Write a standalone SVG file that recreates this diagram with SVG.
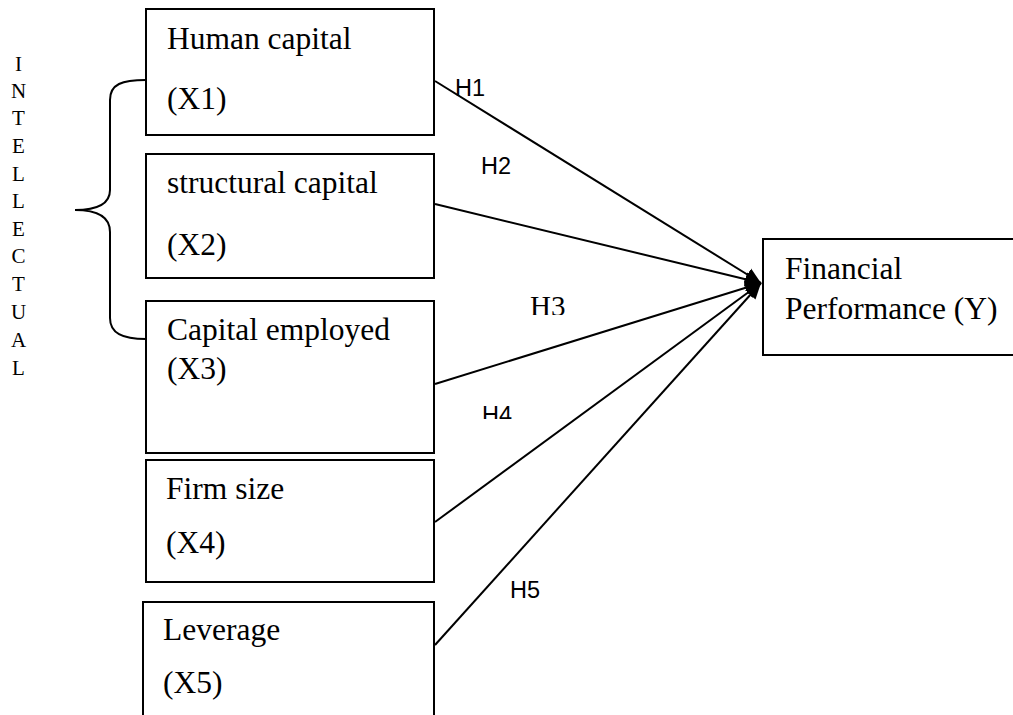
<svg xmlns="http://www.w3.org/2000/svg" width="1013" height="715" viewBox="0 0 1013 715">
<style>
.box{fill:#fff;stroke:#000;stroke-width:2}
.t{font-family:"Liberation Serif","Times New Roman",serif;font-size:31.5px;fill:#000}
.v{font-family:"Liberation Serif","Times New Roman",serif;font-size:21px;fill:#000;text-anchor:middle}
.h{font-family:"Liberation Sans",Arial,sans-serif;font-size:23.5px;fill:#000}
.c{fill:none;stroke:#000;stroke-width:2}
</style>
<defs>
<marker id="arr" markerUnits="userSpaceOnUse" markerWidth="18" markerHeight="18" refX="16" refY="8" orient="auto">
<path d="M0,1 L16,8 L0,15 z" fill="#000"/>
</marker>
<clipPath id="clipH3"><rect x="500" y="280" width="100" height="35"/></clipPath>
<clipPath id="clipH4"><rect x="460" y="390" width="100" height="29"/></clipPath>
</defs>
<rect width="1013" height="715" fill="#fff"/>
<g id="intellectual">
<text class="v" x="18.5" y="71">I</text>
<text class="v" x="18.5" y="98">N</text>
<text class="v" x="18.5" y="125">T</text>
<text class="v" x="18.5" y="153">E</text>
<text class="v" x="18.5" y="181">L</text>
<text class="v" x="18.5" y="208">L</text>
<text class="v" x="18.5" y="236">E</text>
<text class="v" x="18.5" y="263">C</text>
<text class="v" x="18.5" y="291">T</text>
<text class="v" x="18.5" y="319">U</text>
<text class="v" x="18.5" y="347">A</text>
<text class="v" x="18.5" y="375">L</text>
<path class="c" d="M146,80 C122,80 110,84 110,100 L110,190 C110,204 96,210 75,210 C96,210 110,216 110,232 L110,318 C110,333 122,339 146,339"/>
</g>
<g id="connectors">
<line class="c" x1="435" y1="81" x2="761" y2="283" marker-end="url(#arr)"/>
<line class="c" x1="435" y1="204" x2="761" y2="283" marker-end="url(#arr)"/>
<line class="c" x1="435" y1="384" x2="761" y2="283" marker-end="url(#arr)"/>
<line class="c" x1="435" y1="522" x2="761" y2="283" marker-end="url(#arr)"/>
<line class="c" x1="435" y1="645" x2="761" y2="283" marker-end="url(#arr)"/>
<text class="h" x="455" y="96">H1</text>
<text class="h" x="481" y="174">H2</text>
<text class="t" x="530" y="316" style="font-size:29px" clip-path="url(#clipH3)">H3</text>
<text class="h" x="482" y="423" clip-path="url(#clipH4)">H4</text>
<text class="h" x="510" y="598">H5</text>
</g>
<g id="x1">
<rect class="box" x="146" y="9" width="288" height="126"/>
<text class="t" x="167" y="49">Human capital</text>
<text class="t" x="167" y="109">(X1)</text>
</g>
<g id="x2">
<rect class="box" x="146" y="154" width="288" height="124"/>
<text class="t" x="167" y="193">structural capital</text>
<text class="t" x="167" y="255">(X2)</text>
</g>
<g id="x3">
<rect class="box" x="146" y="301" width="288" height="152"/>
<text class="t" x="167" y="340">Capital employed</text>
<text class="t" x="167" y="379">(X3)</text>
</g>
<g id="x4">
<rect class="box" x="146" y="460" width="288" height="122"/>
<text class="t" x="166" y="499">Firm size</text>
<text class="t" x="166" y="553">(X4)</text>
</g>
<g id="x5">
<rect class="box" x="143" y="602" width="291" height="130"/>
<text class="t" x="163" y="640">Leverage</text>
<text class="t" x="163" y="693">(X5)</text>
</g>
<g id="y">
<rect class="box" x="763" y="239" width="258" height="116"/>
<text class="t" x="785" y="279">Financial</text>
<text class="t" x="785" y="319">Performance (Y)</text>
</g>
</svg>
